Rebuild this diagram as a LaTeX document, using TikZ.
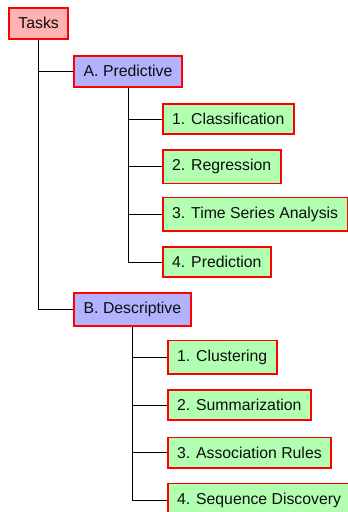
\documentclass[tikz,border=0pt]{standalone}
\usepackage{fontspec}
\setmainfont{Liberation Sans}
\usetikzlibrary{backgrounds}
\begin{document}
\begin{tikzpicture}[x=1pt,y=-1pt,
  box/.style={draw=red, line width=1.8pt, inner xsep=9.5pt, inner ysep=9.5pt, anchor=west,
    font=\fontsize{15.8}{19}\selectfont, text=black!95},
  rootbox/.style={box, fill=red!30},
  midbox/.style={box, fill=blue!30},
  leafbox/.style={box, fill=green!30},
  link/.style={draw=black, line width=0.8pt}]
\useasboundingbox (0,0) rectangle (348,512);
\clip (0,0) rectangle (348,512);
\node[rootbox] (tasks) at (8,23.3) {Tasks};
\node[midbox] (a) at (73.3,71.3) {A. Predictive};
\node[leafbox] (a1) at (161.8,119) {1. Classification};
\node[leafbox] (a2) at (161.8,166.7) {2. Regression};
\node[leafbox] (a3) at (161.8,214.4) {3. Time Series Analysis};
\node[leafbox] (a4) at (161.8,262) {4. Prediction};
\node[midbox] (b) at (73.3,309.5) {B. Descriptive};
\node[leafbox] (b1) at (166.7,357.3) {1. Clustering};
\node[leafbox] (b2) at (166.7,405) {2. Summarization};
\node[leafbox] (b3) at (166.7,452.7) {3. Association Rules};
\node[leafbox] (b4) at (166.7,500.3) {4. Sequence Discovery};
\begin{scope}[on background layer]
\draw[link] (tasks.south) |- (a.west);
\draw[link] (tasks.south) |- (b.west);
\draw[link] (a.south) |- (a1.west);
\draw[link] (a.south) |- (a2.west);
\draw[link] (a.south) |- (a3.west);
\draw[link] (a.south) |- (a4.west);
\draw[link] (b.south) |- (b1.west);
\draw[link] (b.south) |- (b2.west);
\draw[link] (b.south) |- (b3.west);
\draw[link] (b.south) |- (b4.west);
\end{scope}
\end{tikzpicture}
\end{document}
